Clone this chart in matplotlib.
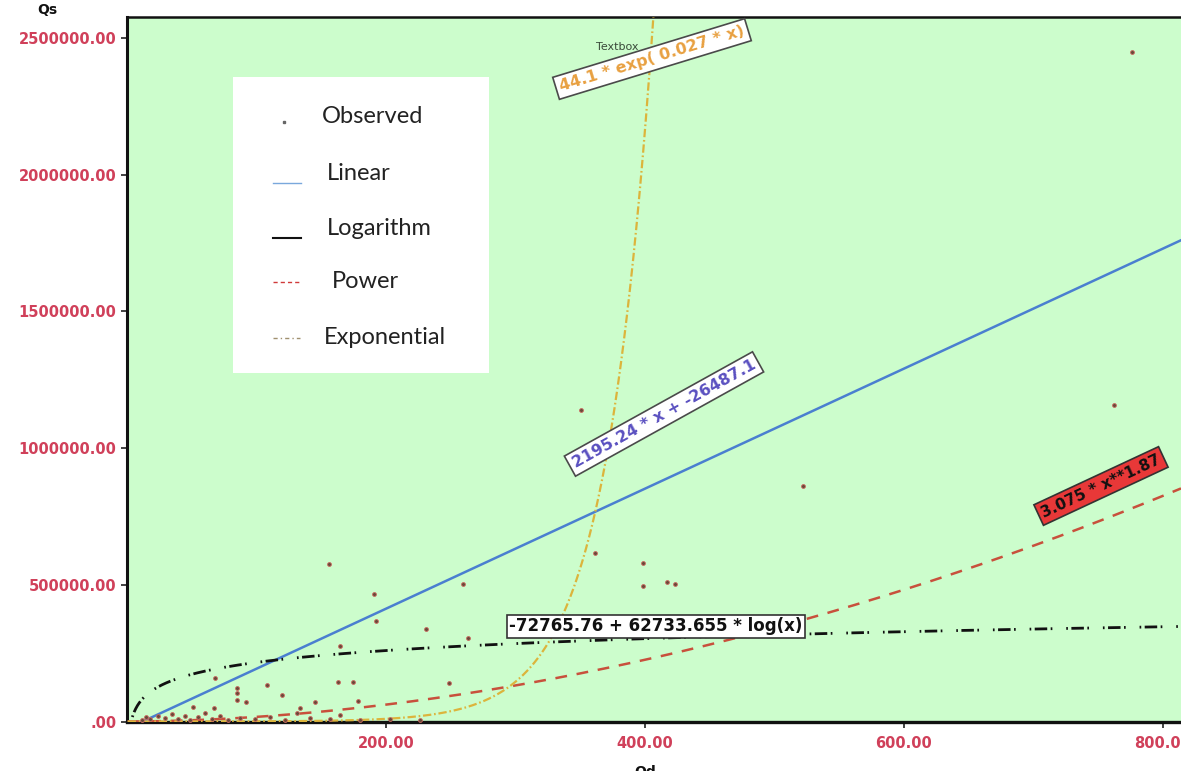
import numpy as np
import matplotlib
matplotlib.use('Agg')
import matplotlib.pyplot as plt

plt.rcParams['lines.scale_dashes'] = False

# ---------------- data ----------------
qd = [776.1, 350.6, 762.2, 522.0, 361.4, 398.5, 398.5, 417.0, 423.2, 259.5,
      156.0, 190.7, 192.3, 230.9, 263.3, 248.6, 164.5, 162.9, 174.5, 108.1,
      119.7, 84.9, 84.9, 84.9, 91.9, 68.0, 145.2, 178.4, 133.6, 164.5,
      67.2, 51.0, 131.3,
      11.6, 14.7, 17.8, 23.9, 29.3, 34.7, 39.4, 44.8, 48.6, 54.8, 60.2, 65.6,
      71.8, 78.0, 87.3, 98.8, 110.4, 122.0, 141.0, 156.8, 180.0, 203.0, 226.0]
qs = [2448700, 1139600, 1157800, 861500, 616300, 579700, 495600, 510200, 502900, 502900,
      576100, 466300, 367600, 338300, 305400, 140800, 276100, 144500, 144500, 133500,
      96900, 122500, 104200, 78600, 71300, 159100, 71300, 75000, 49400, 23800,
      49400, 53000, 31000,
      5000, 16000, 9000, 20000, 13000, 27000, 9000, 20000, 5000, 16000, 31000, 9000,
      20000, 5000, 13000, 9000, 16000, 5000, 13000, 9000, 5000, 9000, 5000]

lin_slope, lin_icpt = 2195.24, -26487.1
log_a, log_b = -72765.76, 62733.655
pow_a, pow_b = 3.075, 1.87
exp_a, exp_b = 44.1, 0.027

x_ticks = [200, 400, 600, 800]
x_ticklabels = ['200.00', '400.00', '600.00', '800.00']
y_ticks = [0, 500000, 1000000, 1500000, 2000000, 2500000]
y_ticklabels = ['.00', '500000.00', '1000000.00', '1500000.00', '2000000.00', '2500000.00']

legend_labels = ['Observed', 'Linear', 'Logarithm', 'Power', 'Exponential']

# ---------------- figure ----------------
W, H = 1181, 771
fig = plt.figure(figsize=(W / 100, H / 100), dpi=100)
L, R, T, B = 127, 1181, 17, 721.5
ax = fig.add_axes([L / W, 1 - B / H, (R - L) / W, (B - T) / H])
ax.set_facecolor('#ccfdcc')
ax.set_xlim(0, 814)
ax.set_ylim(0, 2577000)

xs = np.linspace(0.5, 814, 3000)
c_lin = '#4a7fd0'
c_log = '#111111'
c_pow = '#c8503c'
c_exp = '#dcb43c'

ax.plot(xs, lin_slope * xs + lin_icpt, color=c_lin, lw=1.8, zorder=3)
ax.plot(xs, log_a + log_b * np.log(xs), color=c_log, lw=2.0,
        dashes=(1.2, 2.5, 9, 2.5, 1.2, 10), zorder=3)
ax.plot(xs, pow_a * xs ** pow_b, color=c_pow, lw=1.8, dashes=(8.5, 7), zorder=3)
ax.plot(xs, exp_a * np.exp(exp_b * xs), color=c_exp, lw=1.6,
        dashes=(6, 2, 1.2, 2), zorder=3)

ax.plot(qd, qs, 'o', ms=2.8, mfc='#6a4a3a', mec='#cc6a60', mew=0.6, zorder=4,
        linestyle='none')

# ---------------- axes styling ----------------
for s in ['left', 'bottom', 'top']:
    ax.spines[s].set_color('#111111')
ax.spines['left'].set_linewidth(2.2)
ax.spines['bottom'].set_linewidth(2.4)
ax.spines['top'].set_linewidth(1.8)
ax.spines['right'].set_visible(False)

ax.set_xticks(x_ticks)
ax.set_xticklabels(x_ticklabels)
ax.set_yticks(y_ticks)
ax.set_yticklabels(y_ticklabels)
ax.tick_params(axis='both', direction='out', length=4.5, width=1.2, color='#222222',
               labelcolor='#d0405a', labelsize=10.5, pad=3)
for lab in ax.get_xticklabels() + ax.get_yticklabels():
    lab.set_fontweight('bold')
ax.tick_params(axis='x', pad=6)

fig.text(47 / W, 1 - 10 / H, 'Qs', fontsize=10, fontweight='bold', ha='center',
         va='center', color='#111111')
fig.text(645 / W, 1 - 772 / H, 'Qd', fontsize=10, fontweight='bold', ha='center',
         va='center', color='#111111')

# ---------------- equation labels ----------------
def data_pt(px, py):
    return (px - L) / (R - L) * 814, (B - py) / (B - T) * 2577000

tb = dict(boxstyle='square,pad=0.25', fc='white', ec='#4a4a4a', lw=1.2)
x0, y0 = data_pt(652, 59)
ax.text(x0, y0, '44.1 * exp( 0.027 * x)', rotation=17, rotation_mode='anchor',
        ha='center', va='center', color='#e8a040', fontsize=11.5, fontweight='bold',
        bbox=tb, zorder=6)
x0, y0 = data_pt(664, 414)
ax.text(x0, y0, '2195.24 * x + -26487.1', rotation=29, rotation_mode='anchor',
        ha='center', va='center', color='#5a50c0', fontsize=11.5, fontweight='bold',
        bbox=tb, zorder=6)
x0, y0 = data_pt(656, 626)
ax.text(x0, y0, '-72765.76 + 62733.655 * log(x)', ha='center', va='center',
        color='#111111', fontsize=12, fontweight='bold',
        bbox=dict(boxstyle='square,pad=0.15', fc='white', ec='#333333', lw=1.2), zorder=6)
x0, y0 = data_pt(1101, 486)
ax.text(x0, y0, '3.075 * x**1.87', rotation=25, rotation_mode='anchor',
        ha='center', va='center', color='#111111', fontsize=11, fontweight='bold',
        bbox=dict(boxstyle='square,pad=0.25', fc='#e83838', ec='#333333', lw=1.2), zorder=6)
x0, y0 = data_pt(617, 47)
ax.text(x0, y0, 'Textbox', ha='center', va='center', color='#3a4a3a', fontsize=8, zorder=6)

# ---------------- legend ----------------
def af(px, py):
    return (px - L) / (R - L), (B - py) / (B - T)

lx0, ly0 = af(233, 373)
lx1, ly1 = af(489, 77)
ax.add_patch(plt.Rectangle((lx0, ly0), lx1 - lx0, ly1 - ly0, transform=ax.transAxes,
                           fc='white', ec='none', zorder=7))
text_pos = [(322, 123), (327, 180), (327, 235), (332, 288), (324, 344)]
for lab, (px, py) in zip(legend_labels, text_pos):
    tx, ty = af(px, py)
    ax.text(tx, ty, lab, transform=ax.transAxes, ha='left', va='baseline',
            fontsize=17, family='Lato', color='#222222', zorder=8)

mx, my = af(284, 122)
ax.plot([mx], [my], 's', ms=1.5, color='#666666', transform=ax.transAxes, zorder=8)
a, yy = af(273, 183); b, _ = af(301, 183)
ax.plot([a, b], [yy, yy], color='#7aa8dc', lw=1.0, transform=ax.transAxes, zorder=8)
a, yy = af(273, 238); b, _ = af(301, 238)
ax.plot([a, b], [yy, yy], color='#111111', lw=1.5, transform=ax.transAxes, zorder=8)
a, yy = af(273, 282); b, _ = af(300, 282)
ax.plot([a, b], [yy, yy], color='#d03a3a', lw=1.0, dashes=(3, 2.2),
        transform=ax.transAxes, zorder=8)
a, yy = af(273, 338); b, _ = af(300, 338)
ax.plot([a, b], [yy, yy], color='#a09070', lw=1.0, dashes=(3, 2.2, 1, 2.2),
        transform=ax.transAxes, zorder=8)

fig.savefig('out.png', dpi=100, facecolor='white')
